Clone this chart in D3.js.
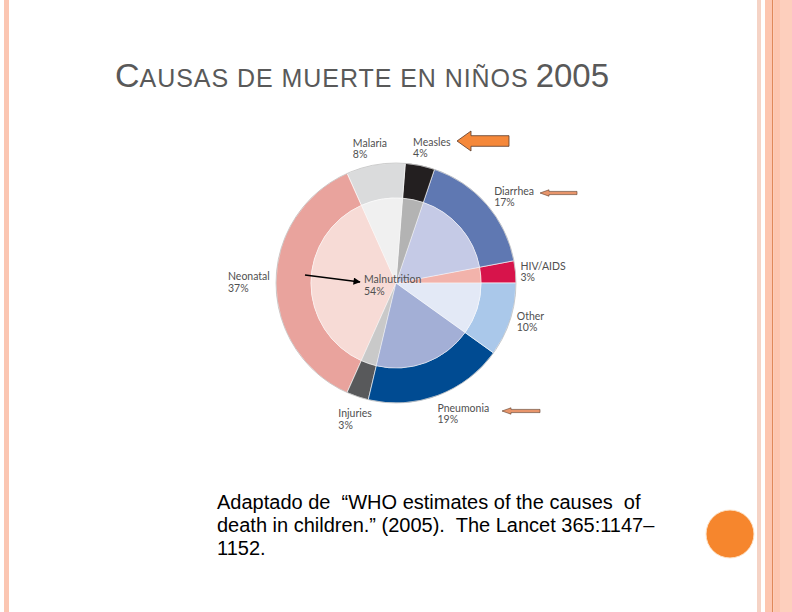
<!DOCTYPE html>
<html>
<head>
<meta charset="utf-8">
<script src="https://cdn.jsdelivr.net/npm/d3@7"></script>
<style>
  body { margin: 0; background: #fff; }
  svg { display: block; }
</style>
</head>
<body>
<svg id="chart"></svg>
<script>
// causes of death, counter-clockwise from 3 o'clock
const causes = ["HIV/AIDS", "Diarrhea", "Measles", "Malaria", "Neonatal", "Injuries", "Pneumonia", "Other"];
const shares = [3, 17, 4, 8, 37, 3, 19, 10];
const outerColors = ["#d7144b", "#5f78b2", "#231f20", "#dadbdc", "#e9a39d", "#58595b", "#004b92", "#aac8ea"];
const innerColors = ["#f2b3ab", "#c5cae6", "#b3b3b3", "#f0f0f0", "#f7dbd6", "#c9c9c9", "#a3afd6", "#e3e9f6"];
const centerLabel = ["Malnutrition", "54%"];
const titleParts = ["C", "AUSAS DE MUERTE EN NIÑOS", "2005"];
const sourceLines = [
  "Adaptado de  \u201cWHO estimates of the causes  of",
  "death in children.\u201d (2005).  The Lancet 365:1147\u2013",
  "1152."
];

// label nudges from the label-arc centroid (layout only)
const labelNudge = [[-5, -1], [0, -3], [-9, -10], [-21, -8], [-38, -3], [-16, 11], [-4, 7], [-3, -3]];

const W = 792, H = 612;
const cx = 396, cy = 283, R = 120, Rin = 85;

const svg = d3.select("#chart").attr("width", W).attr("height", H);

// slide borders
const borders = [
  {x: 4, w: 5, c: "#fbc6b2"},
  {x: 757, w: 4, c: "#f5d3c5"},
  {x: 765, w: 7, c: "#fdc6b0"},
  {x: 772, w: 1.2, c: "#e0895a"},
  {x: 773.2, w: 6.8, c: "#fdc6b0"},
  {x: 780, w: 12, c: "#fdcfbd"}
];
svg.selectAll("rect.border")
  .data(borders)
  .enter()
  .append("rect")
  .attr("class", "border")
  .attr("x", d => d.x)
  .attr("y", 0)
  .attr("width", d => d.w)
  .attr("height", H)
  .style("fill", d => d.c);

// title with small caps look
const title = svg.append("text")
  .attr("x", 115)
  .attr("y", 87)
  .style("font-family", "'Liberation Sans', Arial, sans-serif")
  .style("fill", "#595959");
title.append("tspan").style("font-size", "34px").text(titleParts[0]);
title.append("tspan").style("font-size", "25px").style("letter-spacing", "0.95px").text(titleParts[1]);
title.append("tspan").style("font-size", "33px").attr("dx", 7).text(titleParts[2]);

// pie
const pie = d3.pie()
  .sort(null)
  .value(d => d)
  .startAngle(Math.PI / 2)
  .endAngle(Math.PI / 2 - 2 * Math.PI);

const arcs = pie(shares);

const outerArc = d3.arc().innerRadius(Rin).outerRadius(R);
const innerArc = d3.arc().innerRadius(0).outerRadius(Rin);
const labelArc = d3.arc().innerRadius(R + 10).outerRadius(R + 10);

const g = svg.append("g").attr("transform", `translate(${cx},${cy})`);

g.selectAll("path.outer")
  .data(arcs)
  .enter()
  .append("path")
  .attr("class", "outer")
  .attr("d", outerArc)
  .style("fill", (d, i) => outerColors[i])
  .style("stroke", "#ffffff")
  .style("stroke-width", 0.6);

g.selectAll("path.inner")
  .data(arcs)
  .enter()
  .append("path")
  .attr("class", "inner")
  .attr("d", innerArc)
  .style("fill", (d, i) => innerColors[i])
  .style("stroke", "#ffffff")
  .style("stroke-width", 0.4);

g.append("circle")
  .attr("r", R)
  .style("fill", "none")
  .style("stroke", "#b0b0b0")
  .style("stroke-width", 0.6);

// cause labels
const labels = g.selectAll("text.cause")
  .data(arcs)
  .enter()
  .append("text")
  .attr("class", "cause")
  .attr("transform", (d, i) => {
    const c = labelArc.centroid(d);
    return `translate(${c[0] + labelNudge[i][0]},${c[1] + labelNudge[i][1]})`;
  })
  .style("font-family", "Lato, 'Open Sans', sans-serif")
  .style("font-size", "10.5px")
  .style("fill", "#505050");

labels.append("tspan").attr("x", 0).attr("y", 0).text((d, i) => causes[i]);
labels.append("tspan").attr("x", 0).attr("y", 11.5).text(d => d.data + "%");

// centre label
const mal = g.append("text")
  .attr("transform", "translate(-32,0)")
  .style("font-family", "Lato, 'Open Sans', sans-serif")
  .style("font-size", "10.5px")
  .style("fill", "#505050");
mal.append("tspan").attr("x", 0).attr("y", 0).text(centerLabel[0]);
mal.append("tspan").attr("x", 0).attr("y", 12).text(centerLabel[1]);

// black pointer to Malnutrition
svg.append("defs").append("marker")
  .attr("id", "head")
  .attr("viewBox", "0 0 10 10")
  .attr("refX", 9)
  .attr("refY", 5)
  .attr("markerWidth", 5.5)
  .attr("markerHeight", 4.5)
  .attr("orient", "auto")
  .append("path")
  .attr("d", "M0,0L10,5L0,10Z")
  .style("fill", "#000");

svg.append("line")
  .attr("x1", 305)
  .attr("y1", 275)
  .attr("x2", cx - 36)
  .attr("y2", cy - 1)
  .style("stroke", "#000")
  .style("stroke-width", 1.6)
  .attr("marker-end", "url(#head)");

// orange block arrows pointing left
const pointers = [
  {tipX: 457, tipY: 141, len: 52, head: 14, headH: 10, shaftH: 5.3, fill: "#f5883a", sw: 0.8},
  {tipX: 540, tipY: 193, len: 37, head: 9, headH: 3.2, shaftH: 1.6, fill: "#e8956b", sw: 0.6},
  {tipX: 502, tipY: 411, len: 38, head: 9, headH: 3.2, shaftH: 1.6, fill: "#e8956b", sw: 0.6}
];

function arrowPath(p) {
  const bx = p.tipX + p.head, ex = p.tipX + p.len;
  return `M${p.tipX},${p.tipY}L${bx},${p.tipY - p.headH}L${bx},${p.tipY - p.shaftH}` +
    `L${ex},${p.tipY - p.shaftH}L${ex},${p.tipY + p.shaftH}L${bx},${p.tipY + p.shaftH}` +
    `L${bx},${p.tipY + p.headH}Z`;
}

svg.selectAll("path.pointer")
  .data(pointers)
  .enter()
  .append("path")
  .attr("class", "pointer")
  .attr("d", arrowPath)
  .style("fill", d => d.fill)
  .style("stroke", "#5b3a29")
  .style("stroke-width", d => d.sw);

// source note
svg.selectAll("text.source")
  .data(sourceLines)
  .enter()
  .append("text")
  .attr("class", "source")
  .attr("x", 217)
  .attr("y", (d, i) => 509 + i * 23)
  .style("font-family", "'Liberation Sans', Arial, sans-serif")
  .style("font-size", "20px")
  .style("white-space", "pre")
  .style("fill", "#000")
  .text(d => d);

// orange dot
svg.append("circle")
  .attr("cx", 730)
  .attr("cy", 534)
  .attr("r", 24)
  .style("fill", "#f6862d")
  .style("stroke", "#fde3c8")
  .style("stroke-width", 1);
</script>
</body>
</html>
